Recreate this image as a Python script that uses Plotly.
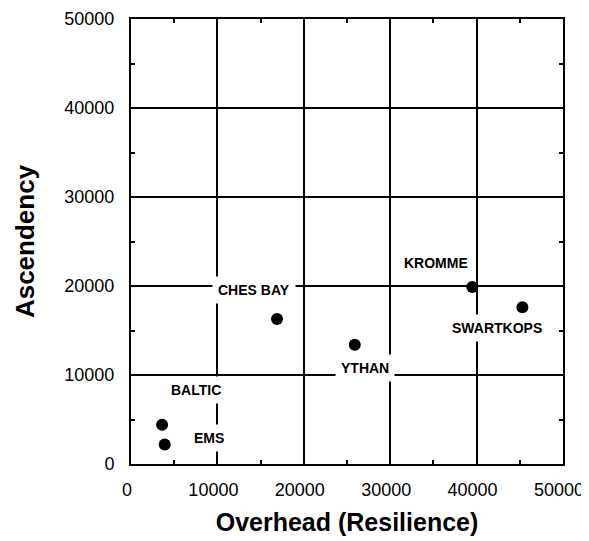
import plotly.graph_objects as go

# estuary networks: overhead vs ascendency
sites = ["BALTIC", "EMS", "CHES BAY", "YTHAN", "KROMME", "SWARTKOPS"]
overhead = [3600, 3900, 16900, 25900, 39500, 45300]
ascendency = [4400, 2200, 16300, 13400, 19900, 17600]

# label placement relative to each dot, in pixels
label_shift = {
    "BALTIC": (34, 35),
    "EMS": (44, 6),
    "CHES BAY": (-23, 29),
    "YTHAN": (10, -23),
    "KROMME": (-36, 24),
    "SWARTKOPS": (-25, -21),
}

FONT = "Liberation Sans, Arial, Helvetica, sans-serif"

fig = go.Figure(go.Scatter(
    x=overhead, y=ascendency, mode="markers",
    marker=dict(color="black", size=12),
    showlegend=False, hoverinfo="skip",
))

for name, xv, yv in zip(sites, overhead, ascendency):
    dx, dy = label_shift[name]
    fig.add_annotation(
        x=xv, y=yv, text="<b>%s</b>" % name, showarrow=False,
        xshift=dx, yshift=dy, bgcolor="white", borderpad=5,
        font=dict(family=FONT, size=14, color="black"),
    )

axis_style = dict(
    showline=True, linecolor="black", linewidth=2, mirror="ticks",
    showgrid=True, gridcolor="black", gridwidth=1.5,
    ticks="inside", ticklen=4, tickwidth=1.5, tickcolor="black",
    minor=dict(ticks="inside", dtick=5000, ticklen=4, tickwidth=1.5,
               tickcolor="black", showgrid=False),
    zeroline=False, dtick=10000, range=[0, 50000],
    tickfont=dict(family=FONT, size=18, color="black"),
    tickformat="d", automargin=False,
)

fig.update_xaxes(**axis_style, ticklabelstandoff=8, ticklabelshift=-4,
                 title=dict(text="<b>Overhead (Resilience)</b>",
                            font=dict(family=FONT, size=25, color="black")))
fig.update_yaxes(**axis_style, ticklabelstandoff=11,
                 title=dict(text="<b>Ascendency</b>", standoff=22,
                            font=dict(family=FONT, size=26, color="black")))

# page body adds an 8px offset, so margins are shifted to compensate
fig.update_layout(
    width=589, height=541,
    margin=dict(l=123, r=34, t=11, b=85),
    plot_bgcolor="white", paper_bgcolor="white",
)

fig.write_html("out.html")
